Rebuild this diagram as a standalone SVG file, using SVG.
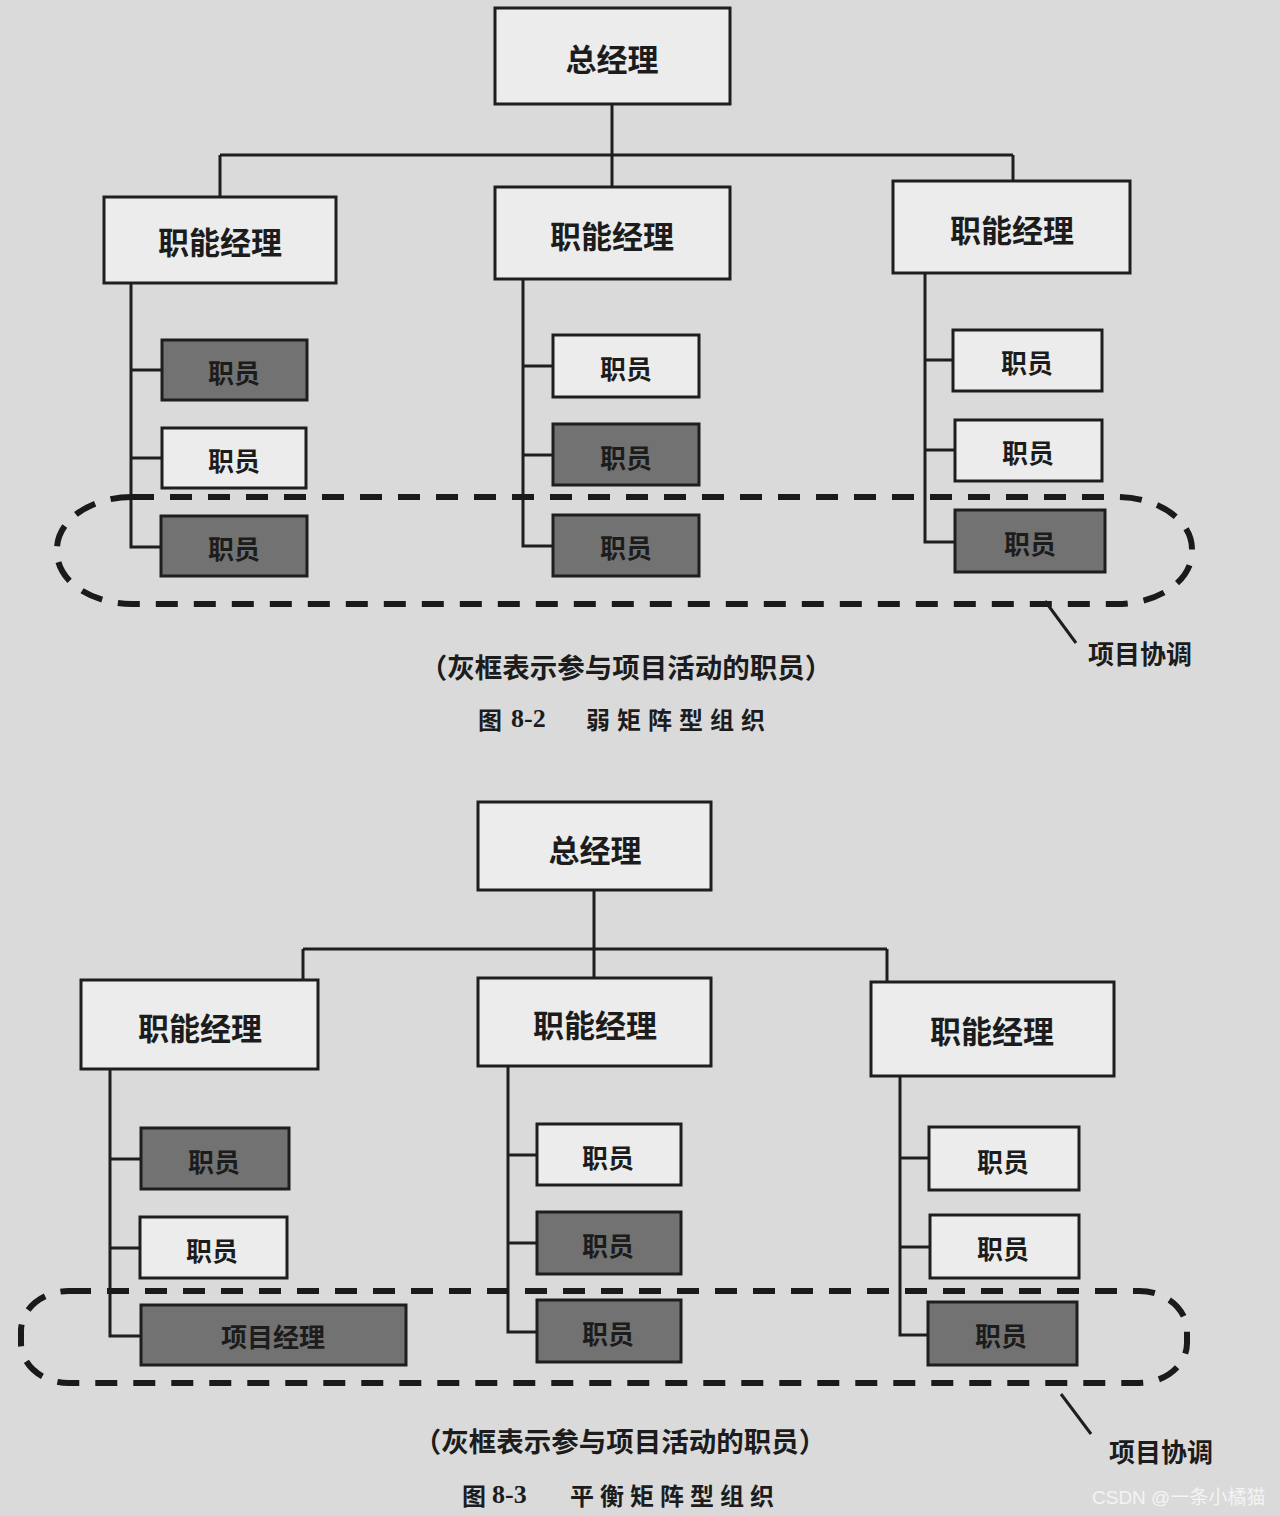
<svg xmlns="http://www.w3.org/2000/svg" width="1280" height="1516" viewBox="0 0 1280 1516">
<defs>
<style>
.bg{fill:#dadada}
.box{stroke:#1e1e1e;stroke-width:3}
.lt{fill:#ececec}
.dk{fill:#727272}
.ln{stroke:#1e1e1e;stroke-width:3;fill:none}
.dash{stroke:#1a1a1a;stroke-width:6;fill:none;stroke-dasharray:22 16}
.t{font-family:"Noto Sans CJK SC","Noto Sans",sans-serif;font-weight:bold;fill:#1c1c1c;text-anchor:middle;dominant-baseline:central}
.big{font-size:31px}
.st{font-size:26px}
.cap{font-size:27.5px}
.fig{font-size:24px;text-anchor:start}
.num{font-family:"Liberation Serif",serif;font-weight:bold;font-size:26px;fill:#1c1c1c;dominant-baseline:central}
.wm{font-family:"Liberation Sans","Noto Sans CJK SC",sans-serif;font-size:19px;fill:#f4f4f4}
</style>
</defs>
<rect class="bg" x="0" y="0" width="1280" height="1516"/>

<g id="connectors">
<path class="ln" d="M612 104V187M220 155H1013M220 155V197M1013 155V181"/>
<path class="ln" d="M131 283V547H161M131 370H162M131 458H162"/>
<path class="ln" d="M523 279V546H553M523 366H553M523 455H553"/>
<path class="ln" d="M925 273V542H955M925 360H953M925 450H955"/>
<rect class="dash" x="57" y="497" width="1135" height="107" rx="75" ry="52"/>
<path class="ln" d="M1045 601L1076 643"/>
<path class="ln" d="M594 890V978M303 949H887M303 949V980M887 949V982"/>
<path class="ln" d="M110 1069V1336H141M110 1159H141M110 1248H140"/>
<path class="ln" d="M508 1066V1332H537M508 1155H537M508 1243H537"/>
<path class="ln" d="M900 1076V1335H928M900 1158H929M900 1247H930"/>
<rect class="dash" x="21" y="1291" width="1166" height="92" rx="48" ry="40"/>
<path class="ln" d="M1061 1394L1091 1434"/>
</g>

<g id="gm1"><rect class="box lt" x="495" y="8" width="235" height="96"/><text class="t big" x="612" y="57">总经理</text></g>
<g id="fm1a"><rect class="box lt" x="104" y="197" width="232" height="86"/><text class="t big" x="220" y="240">职能经理</text></g>
<g id="fm1b"><rect class="box lt" x="495" y="187" width="235" height="92"/><text class="t big" x="612" y="234">职能经理</text></g>
<g id="fm1c"><rect class="box lt" x="893" y="181" width="237" height="92"/><text class="t big" x="1012" y="228">职能经理</text></g>

<g id="s1a1"><rect class="box dk" x="162" y="340" width="145" height="60"/><text class="t st" x="234" y="371">职员</text></g>
<g id="s1a2"><rect class="box lt" x="162" y="428" width="144" height="60"/><text class="t st" x="234" y="459">职员</text></g>
<g id="s1a3"><rect class="box dk" x="161" y="516" width="146" height="60"/><text class="t st" x="234" y="547">职员</text></g>

<g id="s1b1"><rect class="box lt" x="553" y="335" width="146" height="62"/><text class="t st" x="626" y="367">职员</text></g>
<g id="s1b2"><rect class="box dk" x="553" y="424" width="146" height="61"/><text class="t st" x="626" y="456">职员</text></g>
<g id="s1b3"><rect class="box dk" x="553" y="515" width="146" height="61"/><text class="t st" x="626" y="546">职员</text></g>

<g id="s1c1"><rect class="box lt" x="953" y="330" width="149" height="61"/><text class="t st" x="1027" y="361">职员</text></g>
<g id="s1c2"><rect class="box lt" x="955" y="420" width="147" height="61"/><text class="t st" x="1028" y="451">职员</text></g>
<g id="s1c3"><rect class="box dk" x="955" y="510" width="150" height="62"/><text class="t st" x="1030" y="542">职员</text></g>

<text class="t st" x="1140" y="652">项目协调</text>
<text class="t cap" x="626" y="666">（灰框表示参与项目活动的职员）</text>
<text class="t fig" x="478" y="718">图</text>
<text class="num" x="511" y="718">8-2</text>
<text class="t fig" x="586" y="718" style="letter-spacing:7px">弱矩阵型组织</text>

<g id="gm2"><rect class="box lt" x="478" y="802" width="233" height="88"/><text class="t big" x="595" y="848">总经理</text></g>
<g id="fm2a"><rect class="box lt" x="81" y="980" width="237" height="89"/><text class="t big" x="200" y="1026">职能经理</text></g>
<g id="fm2b"><rect class="box lt" x="478" y="978" width="233" height="88"/><text class="t big" x="595" y="1023">职能经理</text></g>
<g id="fm2c"><rect class="box lt" x="871" y="982" width="243" height="94"/><text class="t big" x="992" y="1029">职能经理</text></g>

<g id="s2a1"><rect class="box dk" x="141" y="1128" width="148" height="61"/><text class="t st" x="214" y="1160">职员</text></g>
<g id="s2a2"><rect class="box lt" x="140" y="1217" width="147" height="61"/><text class="t st" x="212" y="1249">职员</text></g>
<g id="s2a3"><rect class="box dk" x="141" y="1305" width="265" height="60"/><text class="t st" x="273" y="1335">项目经理</text></g>

<g id="s2b1"><rect class="box lt" x="537" y="1124" width="144" height="61"/><text class="t st" x="608" y="1156">职员</text></g>
<g id="s2b2"><rect class="box dk" x="537" y="1212" width="144" height="62"/><text class="t st" x="608" y="1244">职员</text></g>
<g id="s2b3"><rect class="box dk" x="537" y="1300" width="144" height="62"/><text class="t st" x="608" y="1332">职员</text></g>

<g id="s2c1"><rect class="box lt" x="929" y="1127" width="150" height="63"/><text class="t st" x="1003" y="1160">职员</text></g>
<g id="s2c2"><rect class="box lt" x="930" y="1215" width="149" height="63"/><text class="t st" x="1003" y="1247">职员</text></g>
<g id="s2c3"><rect class="box dk" x="928" y="1302" width="149" height="63"/><text class="t st" x="1001" y="1334">职员</text></g>

<text class="t st" x="1161" y="1450">项目协调</text>
<text class="t cap" x="620" y="1440">（灰框表示参与项目活动的职员）</text>
<text class="t fig" x="462" y="1494">图</text>
<text class="num" x="492" y="1494">8-3</text>
<text class="t fig" x="570" y="1494" style="letter-spacing:6px">平衡矩阵型组织</text>

<text class="wm" x="1092" y="1504">CSDN @一条小橘猫</text>
</svg>
